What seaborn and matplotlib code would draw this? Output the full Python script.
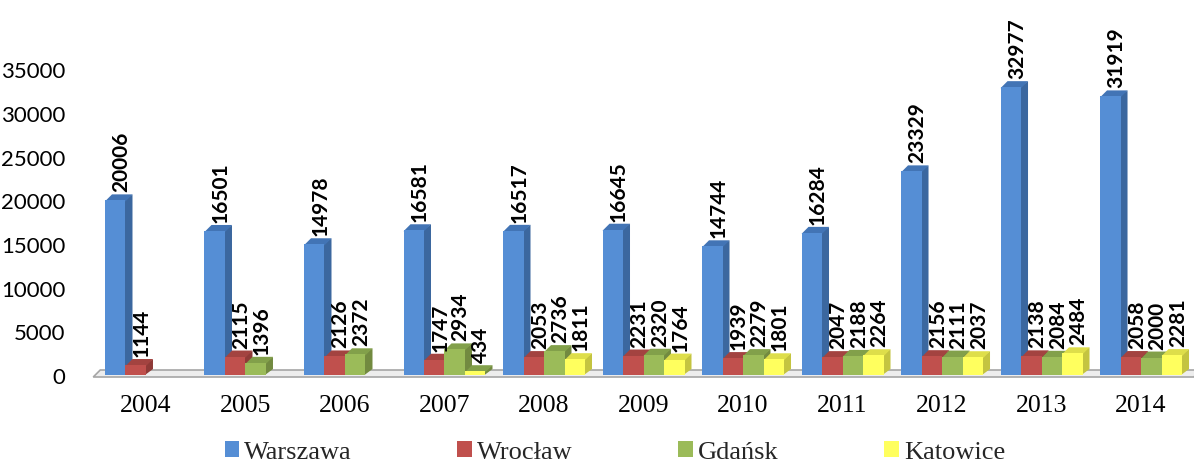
import numpy as np
import pandas as pd
import matplotlib
matplotlib.use("Agg")
import matplotlib.pyplot as plt
import matplotlib.transforms as mtransforms
from matplotlib.patches import Polygon, Patch
import seaborn as sns

# ---- data ----
years = ["2004", "2005", "2006", "2007", "2008", "2009", "2010", "2011", "2012", "2013", "2014"]
cities = ["Warszawa", "Wrocław", "Gdańsk", "Katowice"]
warszawa = [20006, 16501, 14978, 16581, 16517, 16645, 14744, 16284, 23329, 32977, 31919]
wroclaw = [1144, 2115, 2126, 1747, 2053, 2231, 1939, 2047, 2156, 2138, 2058]
gdansk = [np.nan, 1396, 2372, 2934, 2736, 2320, 2279, 2188, 2111, 2084, 2000]
katowice = [np.nan, np.nan, np.nan, 434, 1811, 1764, 1801, 2264, 2037, 2484, 2281]
yticks = [0, 5000, 10000, 15000, 20000, 25000, 30000, 35000]
title = "Nakłady drukowane ogółem"

front_colors = ["#558ED5", "#C0504D", "#9BBB59", "#FFFF5E"]
side_colors = ["#3B679F", "#8F3A37", "#728A40", "#C4C440"]
top_colors = ["#4274B5", "#A34340", "#82A04A", "#DEDE4A"]

series = [warszawa, wroclaw, gdansk, katowice]
rows = []
for c, vals in zip(cities, series):
    for y, v in zip(years, vals):
        rows.append({"year": y, "city": c, "value": v})
df = pd.DataFrame(rows)

sns.set_theme(style="white")
plt.rcParams["font.family"] = ["Lato", "DejaVu Sans"]

W, H, DPI = 11.94, 4.64, 100
fig = plt.figure(figsize=(W, H), dpi=DPI)
ax = fig.add_axes([0.0806, 1 - 376 / 464, 0.9167, (376 - 27) / 464])

sns.barplot(data=df, x="year", y="value", hue="city", order=years, hue_order=cities,
            palette=front_colors, saturation=1, width=0.824, gap=0,
            edgecolor="none", linewidth=0, errorbar=None, legend=False, ax=ax, zorder=3)

ax.set_xlim(-0.5, len(years) - 0.5)
ymax = (376 - 27) / ((377 - 71.5) / 35000)
ax.set_ylim(0, ymax)
ax.set_yticks(yticks)
ax.set_yticklabels([str(t) for t in yticks], fontsize=16, family=["Lato", "DejaVu Sans"])
ax.tick_params(axis="y", length=0, pad=22)
ax.tick_params(axis="x", length=0, pad=14)
ax.set_xticks(range(len(years)))
ax.set_xticklabels(years, fontsize=18.5, family="Liberation Serif", color="black")
for lab in ax.get_yticklabels():
    lab.set_color("black")
ax.set_xlabel("")
ax.set_ylabel("")
for s in ax.spines.values():
    s.set_visible(False)
ax.grid(False)

# ---- 3D effect (derived from the drawn bars) ----
DX, DY = 7, 6
ident = mtransforms.IdentityTransform()
px = ax.transData

# floor
x0, y0 = px.transform((-0.5, 0))
x1, _ = px.transform((len(years) - 0.5, 0))
floor = Polygon([(x0 - 3, y0 - 2), (x1 + 3, y0 - 2), (x1 + 3 + DX, y0 + DY - 1), (x0 - 3 + DX, y0 + DY - 1)],
                closed=True, transform=ident, facecolor="#EDEDED", edgecolor="#A6A6A6",
                linewidth=1.2, zorder=1, clip_on=False)
ax.add_patch(floor)

bars = [p for p in ax.patches if p is not floor]
n = len(years)
for i, p in enumerate(bars):
    h = p.get_height()
    if not np.isfinite(h) or h <= 0:
        continue
    k = i // n
    bx, bw = p.get_x(), p.get_width()
    (lx, by) = px.transform((bx, 0))
    (rx, ty) = px.transform((bx + bw, h))
    side = Polygon([(rx - 1, by), (rx - 1, ty), (rx + DX, ty + DY), (rx + DX, by + DY)],
                   closed=True, transform=ident, facecolor=side_colors[k], edgecolor="none",
                   zorder=2.5, clip_on=False)
    top = Polygon([(lx, ty - 1), (rx, ty - 1), (rx + DX, ty + DY), (lx + DX, ty + DY)],
                  closed=True, transform=ident, facecolor=top_colors[k], edgecolor="none",
                  zorder=2.6, clip_on=False)
    ax.add_patch(side)
    ax.add_patch(top)
    ax.annotate(f"{int(h)}", xy=(bx + bw / 2, h), xytext=(6, 9), textcoords="offset pixels",
                rotation=90, ha="center", va="bottom", fontsize=15, fontweight="bold",
                color="black", family=["Lato", "DejaVu Sans"], annotation_clip=False, zorder=5)

# ---- legend ----
handles = [Patch(facecolor=c, edgecolor="none") for c in front_colors]
leg = fig.legend(handles, cities, loc="center", bbox_to_anchor=(615 / 1194, 1 - 453 / 464),
                 ncol=4, frameon=False, prop={"family": "Liberation Serif", "size": 19},
                 handlelength=0.55, handleheight=0.6, handletextpad=0.2, columnspacing=4.0,
                 borderaxespad=0, borderpad=0)

# ---- title (cut off at top in the original) ----
fig.text(0.5, 1 + 6 / 464, title, ha="center", va="baseline", fontsize=19, fontweight="bold",
         family="Liberation Serif", color="black")

fig.savefig("out.png", dpi=DPI)
